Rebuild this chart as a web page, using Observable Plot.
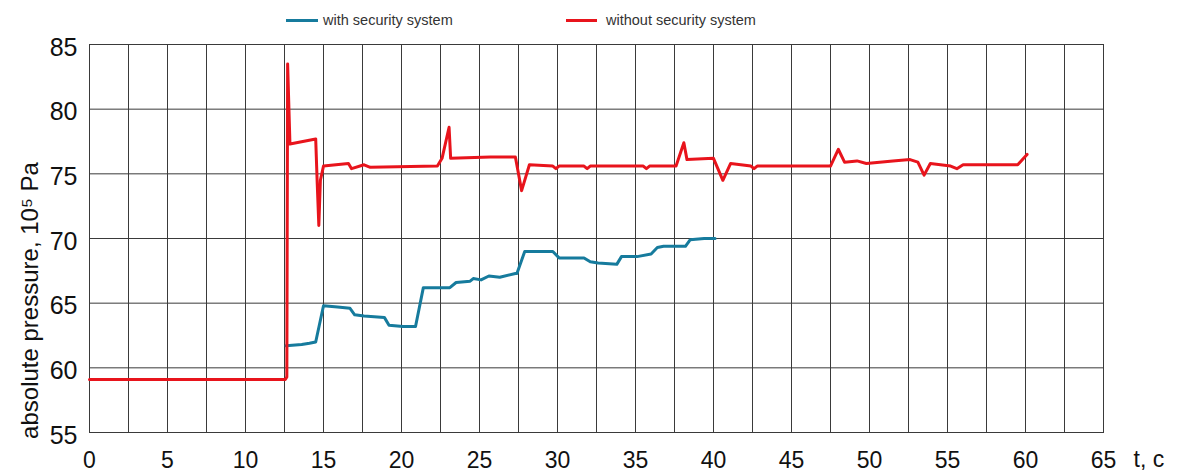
<!DOCTYPE html>
<html>
<head>
<meta charset="utf-8">
<script src="https://cdn.jsdelivr.net/npm/d3@7"></script>
<script src="https://cdn.jsdelivr.net/npm/@observablehq/plot@0.6"></script>
<style>
  html, body { margin: 0; padding: 0; background: #fff; }
  #wrap { position: relative; width: 1180px; height: 474px; font-family: "Liberation Sans", Arial, sans-serif; }
  #legend { position: relative; height: 30px; width: 1180px; font-size: 14.5px; color: #333; }
  .item { position: absolute; top: 10px; height: 20px; display: flex; align-items: center; }
  .sw { display: inline-block; height: 3px; margin-right: 5px; }
</style>
</head>
<body>
<div id="wrap">
  <div id="legend"></div>
  <div id="chart"></div>
</div>
<script>
// time (s) and absolute pressure (10^5 Pa)
const withT = [12.6, 13.6, 14.1, 14.5, 15.0, 15.9, 16.7, 17.0, 17.6, 18.9, 19.2, 20.1, 20.9, 21.4, 23.1, 23.5, 24.4, 24.6, 25.1, 25.6, 26.3, 27.3, 27.4, 27.9, 29.7, 30.1, 31.7, 32.1, 32.6, 33.8, 34.1, 35.1, 36.0, 36.4, 36.8, 38.2, 38.5, 39.4, 40.1];
const withP = [61.7, 61.8, 61.9, 62.0, 64.8, 64.7, 64.6, 64.1, 64.0, 63.9, 63.3, 63.2, 63.2, 66.2, 66.2, 66.6, 66.7, 66.9, 66.8, 67.1, 67.0, 67.3, 67.3, 69.0, 69.0, 68.5, 68.5, 68.2, 68.1, 68.0, 68.6, 68.6, 68.8, 69.3, 69.4, 69.4, 69.9, 70.0, 70.0];

const withoutT = [0, 12.55, 12.65, 12.7, 12.85, 14.5, 14.6, 14.7, 14.8, 15.0, 16.6, 16.8, 17.6, 18.0, 22.3, 22.6, 23.05, 23.15, 25.7, 27.3, 27.7, 28.2, 29.7, 29.9, 30.1, 31.7, 31.9, 32.1, 35.5, 35.7, 35.9, 37.6, 38.1, 38.3, 40.0, 40.6, 41.1, 42.4, 42.6, 42.8, 47.5, 48.0, 48.4, 49.2, 49.8, 51.5, 52.6, 53.1, 53.5, 53.9, 55.2, 55.6, 56.0, 59.5, 60.1];
const withoutP = [59.1, 59.1, 59.3, 83.5, 77.3, 77.7, 74.2, 71.0, 74.5, 75.6, 75.8, 75.4, 75.7, 75.5, 75.6, 76.2, 78.6, 76.2, 76.3, 76.3, 73.7, 75.7, 75.6, 75.4, 75.6, 75.6, 75.4, 75.6, 75.6, 75.4, 75.6, 75.6, 77.4, 76.1, 76.2, 74.5, 75.8, 75.6, 75.4, 75.6, 75.6, 76.9, 75.9, 76.0, 75.8, 76.0, 76.1, 75.9, 74.9, 75.8, 75.6, 75.4, 75.7, 75.7, 76.5];

const seriesNames = ["with security system", "without security system"];
const seriesColors = ["#167b9d", "#e8141c"];
const xTicks = d3.range(0, 66, 5);
const xGrid = d3.range(0, 65.1, 2.5);
const yTicks = [55, 60, 65, 70, 75, 80, 85];
const yLabel = "absolute pressure, 10\u2075 Pa";
const xLabel = "t, c";

const rows = [
  ...withT.map((t, i) => ({t, p: withP[i], s: seriesNames[0]})),
  ...withoutT.map((t, i) => ({t, p: withoutP[i], s: seriesNames[1]}))
];

// legend
const legend = document.getElementById("legend");
const legendPos = [{left: 286, w: 32}, {left: 566, w: 31}];
const legendGap = [5, 9];
seriesNames.forEach((n, i) => {
  const d = document.createElement("div");
  d.className = "item";
  d.style.left = legendPos[i].left + "px";
  d.innerHTML = `<span class="sw" style="width:${legendPos[i].w}px;background:${seriesColors[i]};margin-right:${legendGap[i]}px"></span><span>${n}</span>`;
  legend.appendChild(d);
});

const chart = Plot.plot({
  width: 1180,
  height: 444,
  marginTop: 14,
  marginBottom: 42,
  marginLeft: 89,
  marginRight: 77,
  style: {fontFamily: "'Liberation Sans', Arial, sans-serif", background: "#fff", color: "#111"},
  x: {domain: [0, 65]},
  y: {domain: [55, 85]},
  color: {domain: seriesNames, range: seriesColors},
  marks: [
    Plot.ruleX(xGrid, {stroke: "#3a3a3a", strokeWidth: 1}),
    Plot.ruleY(yTicks, {stroke: "#3a3a3a", strokeWidth: 1}),
    Plot.frame({stroke: "#3a3a3a", strokeWidth: 1}),
    Plot.axisX(xTicks, {tickSize: 0, tickPadding: 19, fontSize: 23, label: null, fill: "#111"}),
    Plot.axisY(yTicks, {tickSize: 0, tickPadding: 12, fontSize: 25, dy: 3, fill: "#111", label: null}),
    Plot.text([yLabel], {frameAnchor: "left", textAnchor: "middle", rotate: -90, dx: -59, dy: 62, fontSize: 24, fill: "#111"}),
    Plot.text([xLabel], {frameAnchor: "bottom-right", dx: 30, dy: 34, textAnchor: "start", fontSize: 23, fill: "#111"}),
    Plot.line(rows, {x: "t", y: "p", z: "s", stroke: "s", strokeWidth: 3, strokeLinejoin: "round", strokeLinecap: "round"})
  ]
});
document.getElementById("chart").appendChild(chart);
</script>
</body>
</html>
